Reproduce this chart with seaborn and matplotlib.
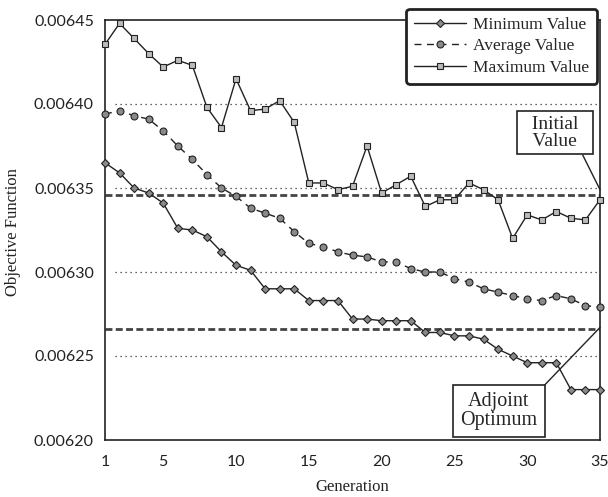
import numpy as np
import pandas as pd
import seaborn as sns
import matplotlib
matplotlib.use("Agg")
import matplotlib.pyplot as plt
from matplotlib.ticker import FormatStrFormatter

sns.set_theme(style="white")
plt.rcParams["font.family"] = ["Liberation Serif", "DejaVu Serif"]

generation = list(range(1, 36))

minimum_value = [
    0.006365, 0.006359, 0.006350, 0.006347, 0.006341, 0.006326, 0.006325,
    0.006321, 0.006312, 0.006304, 0.006301, 0.006290, 0.006290, 0.006290,
    0.006283, 0.006283, 0.006283, 0.006272, 0.006272, 0.006271, 0.006271,
    0.006271, 0.006264, 0.006264, 0.006262, 0.006262, 0.006260, 0.006254,
    0.006250, 0.006246, 0.006246, 0.006246, 0.006230, 0.006230, 0.006230,
]
average_value = [
    0.006394, 0.006396, 0.006393, 0.006391, 0.006384, 0.006375, 0.006367,
    0.006358, 0.006350, 0.006345, 0.006338, 0.006335, 0.006332, 0.006324,
    0.006317, 0.006315, 0.006312, 0.006310, 0.006309, 0.006306, 0.006306,
    0.006302, 0.006300, 0.006300, 0.006296, 0.006294, 0.006290, 0.006288,
    0.006286, 0.006284, 0.006283, 0.006286, 0.006284, 0.006280, 0.006279,
]
maximum_value = [
    0.0064355, 0.006448, 0.006439, 0.006430, 0.006422, 0.006426, 0.006423,
    0.006398, 0.006386, 0.006415, 0.006396, 0.006397, 0.006402, 0.006389,
    0.006353, 0.006353, 0.006349, 0.006351, 0.006375, 0.006347, 0.006352,
    0.006357, 0.006339, 0.006343, 0.006343, 0.006353, 0.006349, 0.006343,
    0.006320, 0.006334, 0.006331, 0.006336, 0.006332, 0.006331, 0.006343,
]

initial_value = 0.006346
adjoint_optimum = 0.006266

y_ticks = [0.00620, 0.00625, 0.00630, 0.00635, 0.00640, 0.00645]
x_ticks = [1, 5, 10, 15, 20, 25, 30, 35]

df = pd.DataFrame({
    "Generation": generation,
    "Minimum Value": minimum_value,
    "Average Value": average_value,
    "Maximum Value": maximum_value,
})

W, H = 608, 497
fig = plt.figure(figsize=(W / 100, H / 100), dpi=100)
ax = fig.add_axes([105 / W, 1 - 440 / H, 495 / W, 420 / H])

# reference levels: dotted grid and the two dashed benchmark lines
for yv in y_ticks[1:-1]:
    ax.axhline(yv, xmin=0.02, xmax=1, color="#333333", lw=0.9,
               ls=(0, (1, 3)), zorder=1)
for yv in (initial_value, adjoint_optimum):
    ax.axhline(yv, color="#444444", lw=2.0, ls=(0, (2.5, 1.2)), zorder=1)

marker_kw = dict(markersize=5, markerfacecolor="#8a8a8a",
                 markeredgecolor="#222222", markeredgewidth=0.8, clip_on=False)

sns.lineplot(data=df, x="Generation", y="Minimum Value", ax=ax,
             color="#222222", lw=1.0, marker="D", label="Minimum Value",
             zorder=3, **{**marker_kw, "markersize": 4.5})
sns.lineplot(data=df, x="Generation", y="Average Value", ax=ax,
             color="#222222", lw=1.0, ls=(0, (5, 4)), marker="o",
             label="Average Value", zorder=3, **marker_kw)
sns.lineplot(data=df, x="Generation", y="Maximum Value", ax=ax,
             color="#222222", lw=1.0, marker="s", label="Maximum Value",
             zorder=3, **{**marker_kw, "markerfacecolor": "#bbbbbb"})

ax.set_xlim(1, 35)
ax.set_ylim(0.00620, 0.00645)
ax.set_xticks(x_ticks)
ax.set_yticks(y_ticks)
ax.yaxis.set_major_formatter(FormatStrFormatter("%.5f"))
ax.tick_params(axis="both", length=0, colors="#222222")
ax.tick_params(axis="y", pad=8)
ax.tick_params(axis="x", pad=11)
for lab in ax.get_xticklabels() + ax.get_yticklabels():
    lab.set_fontfamily(["Lato", "DejaVu Sans"])
    lab.set_fontsize(11.5)

ax.set_xlabel("Generation", fontsize=12, color="#222222")
ax.set_ylabel("Objective Function", fontsize=12, color="#222222")
ax.xaxis.set_label_coords(0.5, -0.093)
ax.yaxis.set_label_coords(-0.17, 0.494)
for sp in ax.spines.values():
    sp.set_color("#222222")
    sp.set_linewidth(1.2)

leg = ax.legend(loc="upper right", bbox_to_anchor=(597 / W, 1 - 9 / H),
                bbox_transform=fig.transFigure, fontsize=12.5, frameon=True,
                fancybox=True, shadow=False, handlelength=3.0,
                borderpad=0.45, labelspacing=0.3, handletextpad=0.4,
                borderaxespad=0)
leg.get_frame().set_edgecolor("#222222")
leg.get_frame().set_linewidth(2.0)
leg.get_frame().set_alpha(1)

ax.annotate("  Initial  \n  Value  ", xy=(35, 0.006349), xytext=(31.9, 0.006383),
            ha="center", va="center", fontsize=14, linespacing=1.0,
            bbox=dict(boxstyle="square,pad=0.25", fc="white", ec="#222222", lw=1.2),
            arrowprops=dict(arrowstyle="-", color="#222222", lw=1.0,
                            shrinkA=0, shrinkB=0, relpos=(0.88, 0.0)))
ax.annotate("Adjoint\nOptimum", xy=(35, 0.006267), xytext=(28.06, 0.006217),
            ha="center", va="center", fontsize=14.5, linespacing=1.0,
            bbox=dict(boxstyle="square,pad=0.35", fc="white", ec="#222222", lw=1.2),
            arrowprops=dict(arrowstyle="-", color="#222222", lw=1.0,
                            shrinkA=0, shrinkB=0, relpos=(1.0, 1.0)))

fig.savefig("out.png", dpi=100)
